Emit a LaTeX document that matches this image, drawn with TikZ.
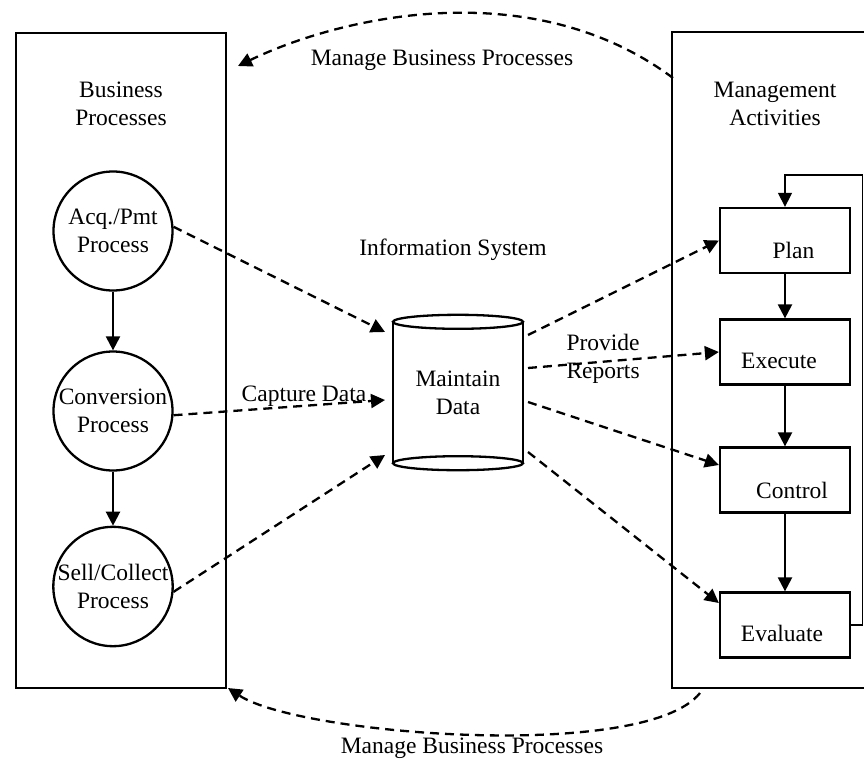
\documentclass[tikz,border=0pt]{standalone}
\usepackage{fontspec}
\setmainfont{Liberation Serif}
\usetikzlibrary{arrows.meta,calc}
\begin{document}
\begin{tikzpicture}[x=1pt,y=-1pt,
  every node/.style={font=\fontsize{23.5}{28}\selectfont, align=center},
  tipst/.style={-{Triangle[length=14pt,width=14pt]}},
  flow/.style={line width=2.3pt, tipst},
  dflow/.style={line width=2.3pt, dash pattern=on 9pt off 6pt, tipst},
  proc/.style={draw, circle, line width=2.3pt, minimum size=119pt, inner sep=0pt},
  stage/.style={draw, line width=2.3pt, minimum width=130pt, minimum height=65pt, inner sep=0pt},
  panel/.style={draw, line width=2.3pt, inner sep=0pt}
]
\useasboundingbox (0,0) rectangle (864,758);
\clip (0,0) rectangle (864,758);

% panels
\node[panel, minimum width=210pt, minimum height=655pt] (lbox) at (121,360.5) {};
\node[panel, minimum width=200pt, minimum height=656pt] (rbox) at (772,360) {};
\node (bp) at (121,104) {Business\\Processes};
\node (ma) at (775,104) {Management\\Activities};

% business processes
\node[proc] (acq) at (113,231) {Acq./Pmt\\Process};
\node[proc] (conv) at (113,411) {Conversion\\Process};
\node[proc] (sell) at (113,586.5) {Sell/Collect\\Process};
\draw[flow] (acq.south) -- (conv.north);
\draw[flow] (conv.south) -- (sell.north);

% information system
\node (is) at (453,250) {Information System};
\node[minimum width=130pt, minimum height=141pt, inner sep=0pt] (db) at (458,392.5) {Maintain\\Data};
\draw[line width=2.3pt] (db.north west) -- (db.south west) (db.north east) -- (db.south east);
\draw[line width=2.3pt] (db.north) ellipse [x radius=65pt, y radius=7pt];
\draw[line width=2.3pt] (db.south) ellipse [x radius=65pt, y radius=7pt];

% management activities
\node[stage] (plan) at (785,240.5) {};
\node[stage] (exec) at (785,352) {};
\node[stage] (ctrl) at (785,480) {};
\node[stage] (eval) at (785,625) {};
\node (planT) at (793.5,250) {Plan};
\node (execT) at (779,361) {Execute};
\node (ctrlT) at (792,490) {Control};
\node (evalT) at (782,633) {Evaluate};
\draw[flow] (plan.south) -- (exec.north);
\draw[flow] (exec.south) -- (ctrl.north);
\draw[flow] (ctrl.south) -- (eval.north);
\draw[line width=1.4pt, tipst] (eval.east) -- ++(11.5,0) |- ($(plan.north)+(0,-32)$) -- (plan.north);

% capture data
\coordinate (i1) at (385,332);
\coordinate (i2) at (385,400);
\coordinate (i3) at (385,455);
\draw[dflow] (acq.4) -- (i1);
\draw[dflow] (conv.-4) -- (i2);
\draw[dflow] (sell.-5) -- (i3);
\node (cap) at (304,396) {Capture Data};

% provide reports
\coordinate (o1) at (528,335);
\coordinate (o2) at (528,368);
\coordinate (o3) at (528,402);
\coordinate (o4) at (528,452);
\draw[dflow] (o1) -- (plan.west);
\draw[dflow] (o2) -- (exec.west);
\draw[dflow] (o3) -- ($(ctrl.west)+(0,-15)$);
\draw[dflow] (o4) -- ($(eval.west)+(0,-22)$);
\node[anchor=west, align=left] (pr) at (563,359) {Provide\\Reports};

% manage business processes
\coordinate (t0) at (673,78);
\coordinate (t1) at (238,66);
\draw[dflow] (t0) .. controls (531,-28) and (339,17) .. (t1);
\node[anchor=base] (m1) at (442,65) {Manage Business Processes};
\coordinate (b0) at (700,693);
\coordinate (b1) at (228,688);
\draw[dflow] (b0) .. controls (645,762) and (299,735) .. (b1);
\node[anchor=base] (m2) at (472,753) {Manage Business Processes};
\end{tikzpicture}
\end{document}
